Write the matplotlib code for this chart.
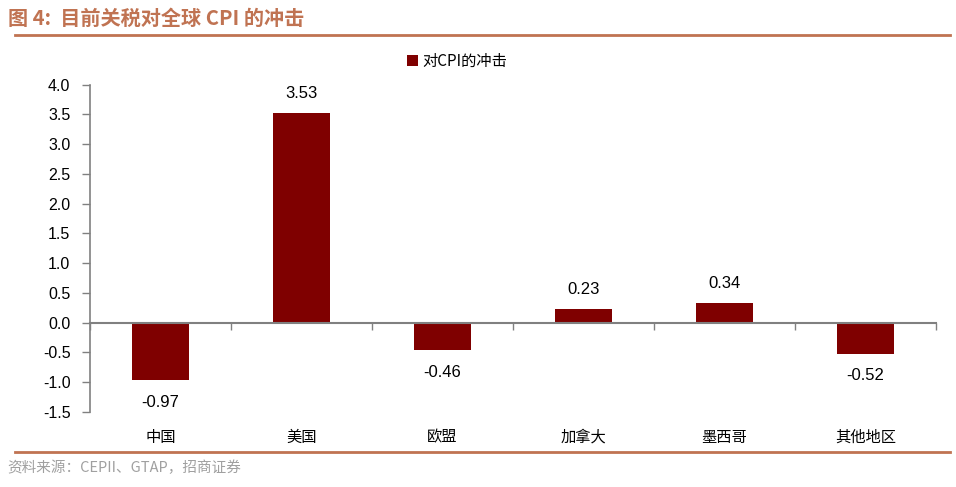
import numpy as np
import matplotlib.pyplot as plt
from matplotlib.lines import Line2D
from matplotlib.patches import Patch
from matplotlib.transforms import blended_transform_factory

plt.rcParams['font.family'] = ['Noto Sans CJK SC', 'DejaVu Sans']

# 数据
categories = ['中国', '美国', '欧盟', '加拿大', '墨西哥', '其他地区']
impact = [-0.97, 3.53, -0.46, 0.23, 0.34, -0.52]
series_name = '对CPI的冲击'
title = '图 4:  目前关税对全球 CPI 的冲击'
source = '资料来源：CEPII、GTAP，招商证券'

bar_color = '#7f0000'
accent = '#c07352'
axis_gray = '#808080'

fig = plt.figure(figsize=(9.56, 4.87), dpi=100)
ax = fig.add_axes([0.094, 0.154, 0.885, 0.672])

x = np.arange(len(categories))
bars = ax.bar(x, impact, width=0.4, color=bar_color, zorder=3)

ax.set_xlim(-0.5, len(categories) - 0.5)
ax.set_ylim(-1.5, 4.0)
ax.set_yticks(np.arange(-1.5, 4.01, 0.5))
ax.set_yticklabels([f'{v:.1f}' for v in np.arange(-1.5, 4.01, 0.5)], fontsize=11.5,
                   family='Liberation Sans')

for s in ['top', 'right']:
    ax.spines[s].set_visible(False)
ax.spines['left'].set_color(axis_gray)
ax.spines['left'].set_linewidth(1.2)
ax.spines['bottom'].set_position(('data', 0))
ax.spines['bottom'].set_color(axis_gray)
ax.spines['bottom'].set_linewidth(1.5)
ax.spines['bottom'].set_zorder(4)

ax.tick_params(axis='y', direction='out', length=6, width=1, color=axis_gray, pad=8)
ax.set_xticks(np.arange(len(categories) + 1) - 0.5)
ax.set_xticklabels([])
ax.tick_params(axis='x', direction='out', length=5, width=1, color=axis_gray)

# 类别标签
tr = blended_transform_factory(ax.transData, ax.transAxes)
for xi, name in zip(x, categories):
    ax.text(xi, -0.077, name, transform=tr, ha='center', va='center', fontsize=11)

# 数值标签
for xi, v in zip(x, impact):
    off = 14 if v >= 0 else -16
    ax.annotate(f'{v:.2f}', (xi, v), xytext=(0, off), textcoords='offset points',
                ha='center', va='center', fontsize=12, family='Liberation Sans')

# 图例
ax.legend(handles=[Patch(facecolor=bar_color, label=series_name)],
          loc='center', bbox_to_anchor=(0.434, 1.072), frameon=False,
          fontsize=11, handlelength=0.7, handleheight=0.7, handletextpad=0.3)

# 标题与来源
fig.text(0.008, 0.962, title, fontsize=14.5, fontweight='bold', color=accent,
         ha='left', va='center')
fig.add_artist(Line2D([0.016, 0.994], [0.928, 0.928], color=accent, lw=2))
fig.add_artist(Line2D([0.016, 0.994], [0.072, 0.072], color=accent, lw=2))
fig.text(0.008, 0.039, source, fontsize=10.5, color='#a0a0a0', ha='left', va='center')

fig.savefig('out.png', dpi=100)
